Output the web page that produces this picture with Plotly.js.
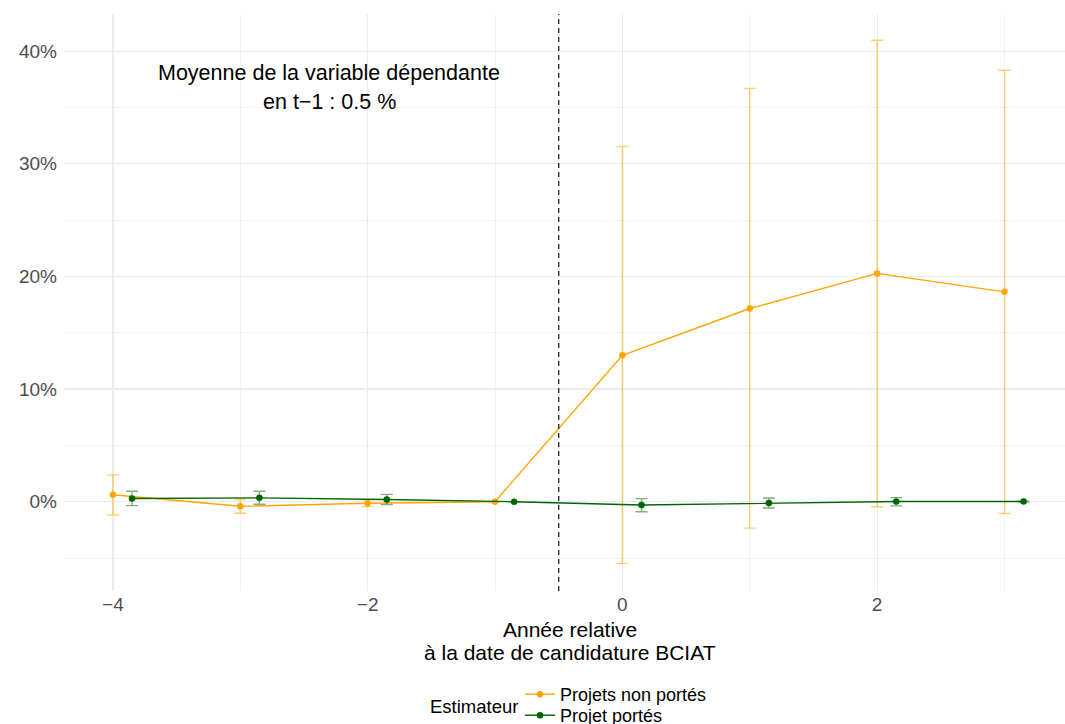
<!DOCTYPE html>
<html>
<head>
<meta charset="utf-8">
<script src="https://cdn.plot.ly/plotly-3.0.1.min.js"></script>
<style>html,body{margin:0;padding:0;background:#fff;}#chart{width:1065px;height:724px;}</style>
</head>
<body>
<div id="chart"></div>
<script>
// ---- data (values in %) ----
const years = [-4, -3, -2, -1, 0, 1, 2, 3];

const nonPortesName = "Projets non portés";
const nonPortesEst = [0.62, -0.41, -0.14, 0, 13.0, 17.15, 20.27, 18.63];
const nonPortesLow = [-1.18, -1.03, -0.44, null, -5.5, -2.35, -0.45, -1.05];
const nonPortesHigh = [2.38, 0.20, 0.16, null, 31.54, 36.7, 40.97, 38.3];

const portesName = "Projet portés";
const portesEst = [0.28, 0.34, 0.19, 0, -0.30, -0.12, 0.01, 0.02];
const portesLow = [-0.35, -0.23, -0.26, null, -0.89, -0.56, -0.37, 0.0];
const portesHigh = [0.93, 0.93, 0.65, null, 0.27, 0.33, 0.36, 0.04];

const xTickVals = [-4, -2, 0, 2];
const xTickText = ["\u22124", "\u22122", "0", "2"];
const yTickVals = [0, 10, 20, 30, 40];
const yTickText = ["0%", "10%", "20%", "30%", "40%"];

const treatmentLine = -0.5;
const noteLines = ["Moyenne de la variable dépendante", "en t\u22121 : 0.5 %"];
const xTitleLines = ["Année relative", "à la date de candidature BCIAT"];
const legendTitle = "Estimateur";

// ---- helpers ----
const dodge = 0.15;
const up = (est, hi) => est.map((v, i) => hi[i] === null ? null : hi[i] - v);
const down = (est, lo) => est.map((v, i) => lo[i] === null ? null : v - lo[i]);

const FONT = "Liberation Sans, Arial, Helvetica, sans-serif";
const ORANGE = "#FFA500";
const GREEN = "#006400";

const traces = [
  {
    type: "scatter", mode: "lines+markers", name: nonPortesName, legend: "legend",
    x: years, y: nonPortesEst,
    line: {color: ORANGE, width: 1.4},
    marker: {color: ORANGE, size: 6.5},
    error_y: {type: "data", symmetric: false, array: up(nonPortesEst, nonPortesHigh),
      arrayminus: down(nonPortesEst, nonPortesLow), color: "rgba(255,165,0,0.55)", thickness: 1.4, width: 6}
  },
  {
    type: "scatter", mode: "lines+markers", name: portesName, legend: "legend2",
    x: years.map(v => v + dodge), y: portesEst,
    line: {color: GREEN, width: 1.4},
    marker: {color: GREEN, size: 6.5},
    error_y: {type: "data", symmetric: false, array: up(portesEst, portesHigh),
      arrayminus: down(portesEst, portesLow), color: "rgba(0,100,0,0.5)", thickness: 1.4, width: 6}
  }
];

// pixel helpers for layout text positions (plot area: x 64..1065, y 14..591)
const W = 1065, H = 724, L = 64, T = 14, B = 133;
const pw = W - L, ph = H - T - B;
const px = x => (x - L) / pw;
const py = y => (H - B - y) / ph;

const legendBase = {
  orientation: "v", xref: "container", yref: "container",
  x: 520 / W, xanchor: "left", yanchor: "top",
  font: {family: FONT, size: 18, color: "#000"}, bgcolor: "rgba(0,0,0,0)",
  tracegroupgap: 0, itemwidth: 30
};

const gridMajor = "#EBEBEB";
const layout = {
  width: W, height: H,
  margin: {l: L, r: 0, t: T, b: B, pad: 0, autoexpand: false},
  paper_bgcolor: "#fff", plot_bgcolor: "#fff",
  font: {family: FONT, color: "#000"},
  showlegend: true,
  xaxis: {
    range: [-4.384, 3.475], zeroline: false, showline: false, automargin: false,
    tickmode: "array", tickvals: xTickVals, ticktext: xTickText,
    tickfont: {family: FONT, size: 19, color: "#4D4D4D"},
    ticks: "", ticklabelstandoff: 0,
    showgrid: true, gridcolor: gridMajor, gridwidth: 1.2,
    minor: {tickvals: [-3, -1, 1, 3], showgrid: true, gridcolor: gridMajor, gridwidth: 0.6, ticks: ""}
  },
  yaxis: {
    range: [-7.93, 43.3], zeroline: false, showline: false, automargin: false,
    tickmode: "array", tickvals: yTickVals, ticktext: yTickText,
    tickfont: {family: FONT, size: 19, color: "#4D4D4D"},
    ticks: "", ticklabelstandoff: 6,
    showgrid: true, gridcolor: gridMajor, gridwidth: 1.2,
    minor: {tickvals: [-5, 5, 15, 25, 35], showgrid: true, gridcolor: gridMajor, gridwidth: 0.6, ticks: ""}
  },
  shapes: [{
    type: "line", xref: "x", yref: "paper", x0: treatmentLine, x1: treatmentLine, y0: 0, y1: 1,
    line: {color: "#333333", width: 1.4, dash: "5px,4px"}, layer: "above"
  }],
  annotations: [
    {xref: "x", yref: "y", x: -2.3, y: 38.1, text: noteLines[0], showarrow: false,
      font: {family: FONT, size: 21.5, color: "#000"}, xanchor: "center", yanchor: "middle"},
    {xref: "x", yref: "y", x: -2.3, y: 35.5, text: noteLines[1], showarrow: false,
      font: {family: FONT, size: 21.5, color: "#000"}, xanchor: "center", yanchor: "middle"},
    {xref: "paper", yref: "paper", x: px(570), y: py(629.5), text: xTitleLines[0], showarrow: false,
      font: {family: FONT, size: 21, color: "#000"}, xanchor: "center", yanchor: "middle"},
    {xref: "paper", yref: "paper", x: px(570), y: py(652), text: xTitleLines[1], showarrow: false,
      font: {family: FONT, size: 21, color: "#000"}, xanchor: "center", yanchor: "middle"},
    {xref: "paper", yref: "paper", x: px(474), y: py(706), text: legendTitle, showarrow: false,
      font: {family: FONT, size: 18.5, color: "#000"}, xanchor: "center", yanchor: "middle"}
  ],
  legend: Object.assign({}, legendBase, {y: (H - 676) / H}),
  legend2: Object.assign({}, legendBase, {y: (H - 697) / H})
};

Plotly.newPlot("chart", traces, layout, {displayModeBar: false, staticPlot: true});
</script>
</body>
</html>
